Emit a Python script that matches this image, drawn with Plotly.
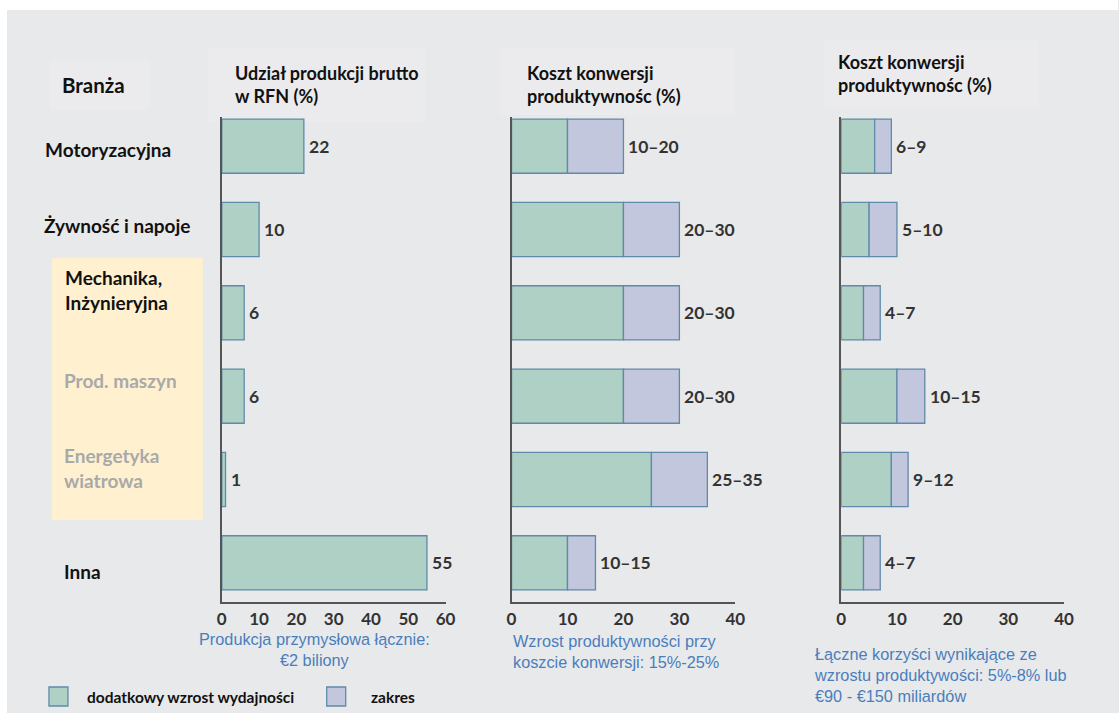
import plotly.graph_objects as go

# --- data ---------------------------------------------------------------
industries = ["Motoryzacyjna", "Żywność i napoje", "Mechanika,<br>Inżynieryjna",
              "Prod. maszyn", "Energetyka<br>wiatrowa", "Inna"]
output_share = [22, 10, 6, 6, 1, 55]          # udział produkcji brutto (%)
cost_low = [10, 20, 20, 20, 25, 10]           # koszt konwersji, dolna granica
cost_high = [20, 30, 30, 30, 35, 15]          # koszt konwersji, górna granica
gain_low = [6, 5, 4, 10, 9, 4]                # produktywność, dolna granica
gain_high = [9, 10, 7, 15, 12, 7]             # produktywność, górna granica

panel_titles = ["Udział produkcji brutto<br>w RFN (%)",
                "Koszt konwersji<br>produktywnośc (%)",
                "Koszt konwersji<br>produktywnośc (%)"]
panel_notes = ["Produkcja przymysłowa łącznie:<br>€2 biliony",
               "Wzrost produktywności przy<br>koszcie konwersji: 15%-25%",
               "Łączne korzyści wynikające ze<br>wzrostu produktywości: 5%-8% lub<br>€90 - €150 miliardów"]
legend_names = ["dodatkowy wzrost wydajności", "zakres"]
x_ticks = [[0, 10, 20, 30, 40, 50, 60], [0, 10, 20, 30, 40], [0, 10, 20, 30, 40]]
x_max = [60, 40, 40]

# --- styling ------------------------------------------------------------
W, H = 1119, 713
PAPER_X0, PAPER_W = 5, 1105     # horizontal pixel frame of the paper area
GREEN = "#aed0c5"
LAVENDER = "#c2c7de"
EDGE = "#5f8aa9"
DARK = "#333333"
BLUE_TXT = "#4a7ebb"
BG = "#e8e9eb"
BOLD = "Lato, 'Open Sans', sans-serif"
PLAIN = "'Liberation Sans', Arial, sans-serif"


def px(x):
    return (x - PAPER_X0) / PAPER_W


def py(y):
    return 1 - y / H


x_domains = [[px(222), px(446)], [px(512), px(736)], [px(842), px(1065)]]
y_domain = [py(602), py(117)]
bar_width = 0.65

fig = go.Figure()

# panel 1: single bars
fig.add_trace(go.Bar(
    y=industries, x=output_share, orientation="h", width=bar_width,
    marker=dict(color=GREEN, line=dict(color=EDGE, width=1.3)),
    xaxis="x", yaxis="y", showlegend=False, hoverinfo="x+y"))

# panels 2 and 3: low value + range stacked on top of it
for low, high, ax in [(cost_low, cost_high, "2"), (gain_low, gain_high, "3")]:
    fig.add_trace(go.Bar(
        y=industries, x=low, orientation="h", width=bar_width,
        marker=dict(color=GREEN, line=dict(color=EDGE, width=1.3)),
        xaxis="x" + ax, yaxis="y" + ax, showlegend=False))
    fig.add_trace(go.Bar(
        y=industries, x=[h - l for l, h in zip(low, high)], base=low,
        orientation="h", width=bar_width,
        marker=dict(color=LAVENDER, line=dict(color=EDGE, width=1.3)),
        xaxis="x" + ax, yaxis="y" + ax, showlegend=False))

annotations = []
VAL_FONT = dict(family=BOLD, size=17.5, color=DARK, weight="bold")

# value labels at bar ends
for cat, v in zip(industries, output_share):
    annotations.append(dict(x=v, y=cat, xref="x", yref="y", text=str(v),
                            xanchor="left", xshift=3, showarrow=False, font=VAL_FONT))
for low, high, ax in [(cost_low, cost_high, "x2"), (gain_low, gain_high, "x3")]:
    for cat, l, h in zip(industries, low, high):
        annotations.append(dict(x=h, y=cat, xref=ax, yref="y" + ax[1], text=f"{l}–{h}",
                                xanchor="left", xshift=3, showarrow=False, font=VAL_FONT))

# industry names on the left
label_pos = [(43, 150), (42, 225), (63, 290), (62, 380), (62, 468), (62, 571)]
label_col = ["#111111", "#111111", "#111111", "#a9a9a9", "#a9a9a9", "#111111"]
for name, (lx, ly), col in zip(industries, label_pos, label_col):
    annotations.append(dict(x=px(lx), y=py(ly), xref="paper", yref="paper", text=name,
                            xanchor="left", yanchor="middle", align="left", showarrow=False,
                            font=dict(family=BOLD, size=19, color=col, weight="bold")))

annotations.append(dict(x=px(60), y=py(85), xref="paper", yref="paper", text="Branża",
                        xanchor="left", yanchor="middle", showarrow=False,
                        font=dict(family=BOLD, size=20.5, color="#111111", weight="bold")))

# panel headings
for title, (tx, ty) in zip(panel_titles, [(233, 84), (525, 84), (837, 73)]):
    annotations.append(dict(x=px(tx), y=py(ty), xref="paper", yref="paper", text=title,
                            xanchor="left", yanchor="middle", align="left", showarrow=False,
                            font=dict(family=BOLD, size=18, color="#111111", weight="bold")))

# notes under each axis
for note, (nx, ny, anchor) in zip(panel_notes, [(315, 649, "center"), (511, 651, "left"),
                                                (813, 675, "left")]):
    annotations.append(dict(x=px(nx), y=py(ny), xref="paper", yref="paper", text=note,
                            xanchor=anchor, yanchor="middle", align=anchor, showarrow=False,
                            font=dict(family=PLAIN, size=16.3, color=BLUE_TXT)))

# legend text
for name, lx in zip(legend_names, [85, 369]):
    annotations.append(dict(x=px(lx), y=py(697), xref="paper", yref="paper", text=name,
                            xanchor="left", yanchor="middle", showarrow=False,
                            font=dict(family=BOLD, size=15.5, color="#111111", weight="bold")))

shapes = [
    # white strip along the top and left edges
    dict(type="rect", xref="paper", yref="paper", x0=px(0), x1=px(W), y0=py(10), y1=1,
         fillcolor="white", line=dict(width=0), layer="below"),
    dict(type="rect", xref="paper", yref="paper", x0=px(0), x1=px(7), y0=0, y1=1,
         fillcolor="white", line=dict(width=0), layer="below"),
    # subtle lighter panels behind headings
    dict(type="rect", xref="paper", yref="paper", x0=px(50), x1=px(150), y0=py(110), y1=py(60),
         fillcolor="#ebebed", line=dict(width=0), layer="below"),
    dict(type="rect", xref="paper", yref="paper", x0=px(208), x1=px(425), y0=py(122), y1=py(48),
         fillcolor="#ebebed", line=dict(width=0), layer="below"),
    dict(type="rect", xref="paper", yref="paper", x0=px(500), x1=px(735), y0=py(115), y1=py(48),
         fillcolor="#ebebed", line=dict(width=0), layer="below"),
    dict(type="rect", xref="paper", yref="paper", x0=px(825), x1=px(1040), y0=py(108), y1=py(40),
         fillcolor="#ebebed", line=dict(width=0), layer="below"),
    # highlighted group of engineering industries
    dict(type="rect", xref="paper", yref="paper", x0=px(52), x1=px(203), y0=py(520), y1=py(258),
         fillcolor="#fff1cf", line=dict(width=0), layer="below"),
    # legend swatches
    dict(type="rect", xref="paper", yref="paper", x0=px(49), x1=px(68), y0=py(706), y1=py(687),
         fillcolor=GREEN, line=dict(color=EDGE, width=1.3)),
    dict(type="rect", xref="paper", yref="paper", x0=px(327), x1=px(346), y0=py(706), y1=py(687),
         fillcolor=LAVENDER, line=dict(color=EDGE, width=1.3)),
]

layout = dict(
    width=W, height=H, autosize=False,
    margin=dict(l=0, r=0, t=0, b=0),
    paper_bgcolor=BG, plot_bgcolor="rgba(0,0,0,0)",
    barmode="overlay", showlegend=False,
    annotations=annotations, shapes=shapes,
)

for i in range(3):
    sfx = "" if i == 0 else str(i + 1)
    layout["xaxis" + sfx] = dict(
        domain=x_domains[i], range=[0, x_max[i]], tickvals=x_ticks[i],
        showgrid=False, zeroline=False, showline=True, linecolor="#555555", linewidth=1.6,
        ticks="", ticklabelstandoff=1, anchor="y" + sfx, fixedrange=True,
        tickfont=dict(family=BOLD, size=17, color=DARK, weight="bold"))
    layout["yaxis" + sfx] = dict(
        domain=y_domain, type="category", categoryorder="array", categoryarray=industries,
        range=[5.47, -0.35], showticklabels=False, showgrid=False, zeroline=False,
        showline=True, linecolor="#555555", linewidth=1.6, ticks="",
        anchor="x" + sfx, fixedrange=True)

fig.update_layout(**layout)
fig.write_html("out.html")
